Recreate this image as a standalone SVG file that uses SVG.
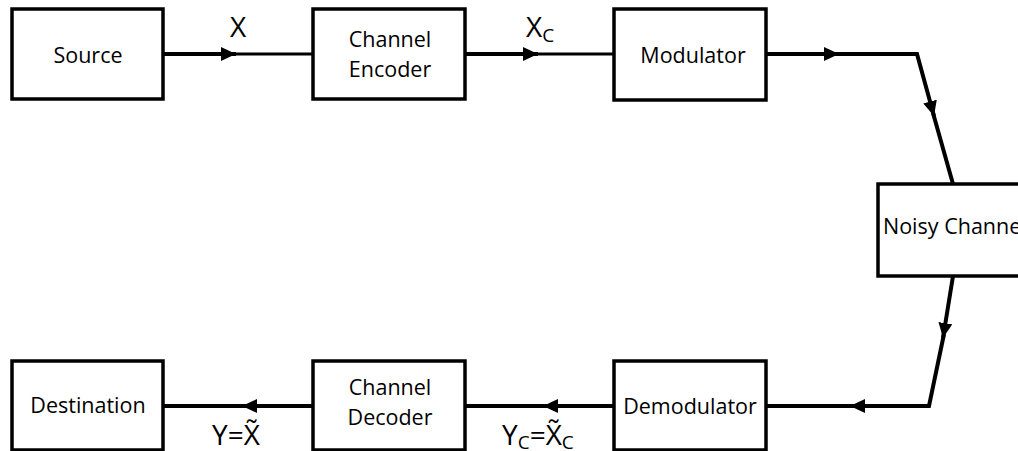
<svg xmlns="http://www.w3.org/2000/svg" width="1018" height="451" viewBox="0 0 1018 451">
<style>
.box{fill:#fff;stroke:#000;stroke-width:3.5}
.t{font-family:"Open Sans","Noto Sans",sans-serif;font-size:21.5px;fill:#000;text-anchor:middle}
.lbl{font-family:"Open Sans","Noto Sans",sans-serif;font-size:28px;fill:#000}
.sub{font-size:19px}
.c{fill:none;stroke:#000;stroke-width:4;stroke-linejoin:miter}
.c2{fill:none;stroke:#000;stroke-width:3}
</style>
<defs>
<marker id="ah" markerUnits="userSpaceOnUse" markerWidth="15" markerHeight="14" refX="15" refY="7" orient="auto">
<path d="M0,0 L15,7 L0,14 z" fill="#000"/>
</marker>
</defs>
<g id="connectors">
<path class="c" d="M163,54 H236" marker-end="url(#ah)"/>
<path class="c2" d="M236,54 H313"/>
<path class="c" d="M465,54 H538" marker-end="url(#ah)"/>
<path class="c2" d="M538,54 H613"/>
<path class="c" d="M766,54 H839" marker-end="url(#ah)"/>
<path class="c" d="M839,54 H917 L934,116" marker-end="url(#ah)"/>
<path class="c" d="M933,113 L953,184"/>
<path class="c" d="M953,276 L943,338" marker-end="url(#ah)"/>
<path class="c" d="M944,334 L929,406 H850" marker-end="url(#ah)"/>
<path class="c" d="M852,406 H766"/>
<path class="c" d="M613,406 H543" marker-end="url(#ah)"/>
<path class="c" d="M545,406 H465"/>
<path class="c" d="M313,406 H242" marker-end="url(#ah)"/>
<path class="c" d="M244,406 H163"/>
</g>
<g id="source"><rect class="box" x="12" y="9" width="151" height="90"/><text class="t" x="88" y="63">Source</text></g>
<g id="channel-encoder"><rect class="box" x="313" y="9" width="152" height="90"/><text class="t" x="390" y="47">Channel</text><text class="t" x="390" y="77">Encoder</text></g>
<g id="modulator"><rect class="box" x="614" y="9" width="152" height="91"/><text class="t" x="693" y="63">Modulator</text></g>
<g id="noisy-channel"><rect class="box" x="878" y="184" width="160" height="92"/><text class="t" x="883" y="234" style="text-anchor:start">Noisy Channel</text></g>
<g id="demodulator"><rect class="box" x="614" y="361" width="152" height="89"/><text class="t" x="690" y="414">Demodulator</text></g>
<g id="channel-decoder"><rect class="box" x="313" y="361" width="152" height="89"/><text class="t" x="390" y="395">Channel</text><text class="t" x="390" y="425">Decoder</text></g>
<g id="destination"><rect class="box" x="12" y="361" width="151" height="89"/><text class="t" x="88" y="413">Destination</text></g>
<g id="labels">
<text class="lbl" x="212" y="445">Y=X̃</text>
<text class="lbl" x="230" y="37">X</text>
<text class="lbl" x="526" y="37">X<tspan class="sub" dy="5">C</tspan></text>
<text class="lbl" x="502" y="445">Y<tspan class="sub" dy="4">C</tspan><tspan dy="-4">=X̃</tspan><tspan class="sub" dy="4">C</tspan></text>
</g>
</svg>
